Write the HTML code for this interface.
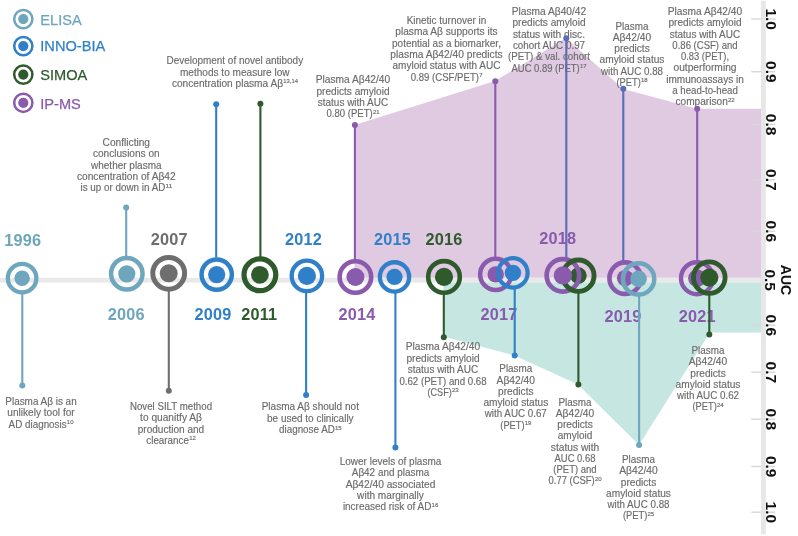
<!DOCTYPE html>
<html lang="en"><head><meta charset="utf-8"><title>Plasma amyloid-beta timeline</title>
<style>
html,body{margin:0;padding:0;background:#fff;}
body{width:798px;height:536px;overflow:hidden;}
svg{display:block;font-family:"Liberation Sans",sans-serif;}
.t{font-size:10.1px;stroke:#6b6b6b;stroke-width:0.15px;fill:#6b6b6b;text-anchor:start;}
.s{font-size:6px;}
.y{font-size:16.3px;letter-spacing:0.2px;font-weight:bold;text-anchor:middle;}
.lg{font-size:14.6px;stroke-width:0.25px;}
.ax{font-size:15.5px;font-weight:bold;fill:#111;text-anchor:middle;}
</style></head><body>
<svg width="798" height="536" viewBox="0 0 798 536">
<rect x="0" y="277.8" width="761" height="4.8" fill="#e9e9e9"/>
<polygon points="354.5,125 495,81 566,38 623.3,89 697,108.8 761.5,108.8 761.5,277.8 354.5,277.8" fill="#dfcae1"/>
<polygon points="443.3,282.6 761.5,282.6 761.5,332.5 710,332.5 639,445 578,384.5 514.5,355.5 443.3,336.5" fill="#c6e6e2"/>
<rect x="751.3" y="18.3" width="24" height="1.4" fill="#d8d8dc"/>
<rect x="751.3" y="71.0" width="24" height="1.4" fill="#d8d8dc"/>
<rect x="751.3" y="123.7" width="24" height="1.4" fill="#d8d8dc"/>
<rect x="751.3" y="179.0" width="24" height="1.4" fill="#d8d8dc"/>
<rect x="751.3" y="230.5" width="24" height="1.4" fill="#d8d8dc"/>
<rect x="751.3" y="324.5" width="24" height="1.4" fill="#d8d8dc"/>
<rect x="751.3" y="371.5" width="24" height="1.4" fill="#d8d8dc"/>
<rect x="751.3" y="418.5" width="24" height="1.4" fill="#d8d8dc"/>
<rect x="751.3" y="465.8" width="24" height="1.4" fill="#d8d8dc"/>
<rect x="751.3" y="511.5" width="24" height="1.4" fill="#d8d8dc"/>
<rect x="761" y="0.8" width="4.8" height="533.5" fill="#e7e7e7"/>
<text class="ax" transform="translate(765.8,19.2) rotate(90)">1.0</text>
<text class="ax" transform="translate(765.8,71.9) rotate(90)">0.9</text>
<text class="ax" transform="translate(765.8,124.6) rotate(90)">0.8</text>
<text class="ax" transform="translate(765.8,179.9) rotate(90)">0.7</text>
<text class="ax" transform="translate(765.8,231.4) rotate(90)">0.6</text>
<text class="ax" transform="translate(765.8,325.4) rotate(90)">0.6</text>
<text class="ax" transform="translate(765.8,372.4) rotate(90)">0.7</text>
<text class="ax" transform="translate(765.8,419.4) rotate(90)">0.8</text>
<text class="ax" transform="translate(765.8,466.7) rotate(90)">0.9</text>
<text class="ax" transform="translate(765.8,512.4) rotate(90)">1.0</text>
<text class="ax" transform="translate(765.3,280.2) rotate(90)">0.5</text>
<text class="ax" textLength="30.5" lengthAdjust="spacingAndGlyphs" transform="translate(780.6,280) rotate(90)">AUC</text>
<text class="y" x="22.7" y="245.6" fill="#6ea6bd">1996</text>
<text class="y" x="126.2" y="320.2" fill="#6ea6bd">2006</text>
<text class="y" x="169.2" y="244.6" fill="#6e6e6e">2007</text>
<text class="y" x="213.0" y="320.2" fill="#2f80c8">2009</text>
<text class="y" x="259.2" y="320.2" fill="#2e5a2c">2011</text>
<text class="y" x="303.5" y="244.6" fill="#2f80c8">2012</text>
<text class="y" x="357.1" y="320.2" fill="#8a5aad">2014</text>
<text class="y" x="392.5" y="244.6" fill="#2f80c8">2015</text>
<text class="y" x="444.0" y="244.6" fill="#2e5a2c">2016</text>
<text class="y" x="498.9" y="320.3" fill="#8a5aad">2017</text>
<text class="y" x="557.7" y="243.5" fill="#8a5aad">2018</text>
<text class="y" x="623.0" y="322.1" fill="#8a5aad">2019</text>
<text class="y" x="697.2" y="322.2" fill="#8a5aad">2021</text>
<text class="t" x="102.54" y="145.70" textLength="47.51" lengthAdjust="spacingAndGlyphs">Conflicting</text>
<text class="t" x="92.96" y="157.10" textLength="66.69" lengthAdjust="spacingAndGlyphs">conclusions on</text>
<text class="t" x="91.06" y="168.50" textLength="70.48" lengthAdjust="spacingAndGlyphs">whether plasma</text>
<text class="t" x="76.94" y="179.90" textLength="98.72" lengthAdjust="spacingAndGlyphs">concentration of Aβ42</text>
<text class="t" x="80.45" y="191.30" textLength="84.97" lengthAdjust="spacingAndGlyphs">is up or down in AD</text>
<text class="t s" x="165.61" y="187.70" textLength="6.74" lengthAdjust="spacingAndGlyphs">11</text>
<text class="t" x="166.45" y="64.30" textLength="136.71" lengthAdjust="spacingAndGlyphs">Development of novel antibody</text>
<text class="t" x="179.99" y="75.50" textLength="109.62" lengthAdjust="spacingAndGlyphs">methods to measure low</text>
<text class="t" x="171.90" y="86.70" textLength="111.15" lengthAdjust="spacingAndGlyphs">concentration plasma Aβ</text>
<text class="t s" x="283.25" y="83.10" textLength="14.65" lengthAdjust="spacingAndGlyphs">13,14</text>
<text class="t" x="315.78" y="83.20" textLength="74.44" lengthAdjust="spacingAndGlyphs">Plasma Aβ42/40</text>
<text class="t" x="316.49" y="94.55" textLength="73.02" lengthAdjust="spacingAndGlyphs">predicts amyloid</text>
<text class="t" x="317.81" y="105.90" textLength="70.38" lengthAdjust="spacingAndGlyphs">status with AUC</text>
<text class="t" x="326.53" y="117.25" textLength="46.21" lengthAdjust="spacingAndGlyphs">0.80 (PET)</text>
<text class="t s" x="372.93" y="113.65" textLength="6.74" lengthAdjust="spacingAndGlyphs">21</text>
<text class="t" x="406.68" y="23.70" textLength="79.64" lengthAdjust="spacingAndGlyphs">Kinetic turnover in</text>
<text class="t" x="395.32" y="35.10" textLength="102.36" lengthAdjust="spacingAndGlyphs">plasma Aβ supports its</text>
<text class="t" x="392.07" y="46.50" textLength="108.86" lengthAdjust="spacingAndGlyphs">potential as a biomarker,</text>
<text class="t" x="390.38" y="57.90" textLength="112.24" lengthAdjust="spacingAndGlyphs">plasma Aβ42/40 predicts</text>
<text class="t" x="392.51" y="69.30" textLength="107.98" lengthAdjust="spacingAndGlyphs">amyloid status with AUC</text>
<text class="t" x="410.67" y="80.70" textLength="68.30" lengthAdjust="spacingAndGlyphs">0.89 (CSF/PET)</text>
<text class="t s" x="479.16" y="77.10" textLength="3.37" lengthAdjust="spacingAndGlyphs">7</text>
<text class="t" x="511.78" y="15.00" textLength="74.44" lengthAdjust="spacingAndGlyphs">Plasma Aβ40/42</text>
<text class="t" x="512.49" y="26.30" textLength="73.02" lengthAdjust="spacingAndGlyphs">predicts amyloid</text>
<text class="t" x="513.03" y="37.60" textLength="71.95" lengthAdjust="spacingAndGlyphs">status with disc.</text>
<text class="t" x="512.93" y="48.90" textLength="72.14" lengthAdjust="spacingAndGlyphs">cohort AUC 0.97</text>
<text class="t" x="507.98" y="60.20" textLength="82.04" lengthAdjust="spacingAndGlyphs">(PET) &amp; val. cohort</text>
<text class="t" x="511.53" y="71.50" textLength="68.20" lengthAdjust="spacingAndGlyphs">AUC 0.89 (PET)</text>
<text class="t s" x="579.93" y="67.90" textLength="6.74" lengthAdjust="spacingAndGlyphs">17</text>
<text class="t" x="615.53" y="29.50" textLength="32.94" lengthAdjust="spacingAndGlyphs">Plasma</text>
<text class="t" x="612.78" y="40.75" textLength="38.43" lengthAdjust="spacingAndGlyphs">Aβ42/40</text>
<text class="t" x="614.29" y="52.00" textLength="35.42" lengthAdjust="spacingAndGlyphs">predicts</text>
<text class="t" x="599.60" y="63.25" textLength="64.81" lengthAdjust="spacingAndGlyphs">amyloid status</text>
<text class="t" x="600.97" y="74.50" textLength="62.06" lengthAdjust="spacingAndGlyphs">with AUC 0.88</text>
<text class="t" x="616.50" y="85.75" textLength="24.25" lengthAdjust="spacingAndGlyphs">(PET)</text>
<text class="t s" x="640.96" y="82.15" textLength="6.74" lengthAdjust="spacingAndGlyphs">18</text>
<text class="t" x="667.78" y="15.00" textLength="74.44" lengthAdjust="spacingAndGlyphs">Plasma Aβ42/40</text>
<text class="t" x="668.49" y="26.28" textLength="73.02" lengthAdjust="spacingAndGlyphs">predicts amyloid</text>
<text class="t" x="669.81" y="37.56" textLength="70.38" lengthAdjust="spacingAndGlyphs">status with AUC</text>
<text class="t" x="672.36" y="48.84" textLength="65.29" lengthAdjust="spacingAndGlyphs">0.86 (CSF) and</text>
<text class="t" x="680.92" y="60.12" textLength="48.17" lengthAdjust="spacingAndGlyphs">0.83 (PET),</text>
<text class="t" x="673.47" y="71.40" textLength="63.05" lengthAdjust="spacingAndGlyphs">outperforming</text>
<text class="t" x="666.21" y="82.68" textLength="77.59" lengthAdjust="spacingAndGlyphs">immunoassays in</text>
<text class="t" x="672.21" y="93.96" textLength="65.57" lengthAdjust="spacingAndGlyphs">a head-to-head</text>
<text class="t" x="675.46" y="105.24" textLength="52.34" lengthAdjust="spacingAndGlyphs">comparison</text>
<text class="t s" x="728.00" y="101.64" textLength="6.74" lengthAdjust="spacingAndGlyphs">22</text>
<text class="t" x="5.32" y="405.20" textLength="71.35" lengthAdjust="spacingAndGlyphs">Plasma Aβ is an</text>
<text class="t" x="7.29" y="416.45" textLength="67.42" lengthAdjust="spacingAndGlyphs">unlikely tool for</text>
<text class="t" x="8.61" y="427.70" textLength="58.03" lengthAdjust="spacingAndGlyphs">AD diagnosis</text>
<text class="t s" x="66.85" y="424.10" textLength="6.74" lengthAdjust="spacingAndGlyphs">10</text>
<text class="t" x="129.93" y="410.20" textLength="82.13" lengthAdjust="spacingAndGlyphs">Novel SILT method</text>
<text class="t" x="140.09" y="421.40" textLength="61.82" lengthAdjust="spacingAndGlyphs">to quanitfy Aβ</text>
<text class="t" x="137.76" y="432.60" textLength="66.47" lengthAdjust="spacingAndGlyphs">production and</text>
<text class="t" x="146.30" y="443.80" textLength="42.67" lengthAdjust="spacingAndGlyphs">clearance</text>
<text class="t s" x="189.17" y="440.20" textLength="6.74" lengthAdjust="spacingAndGlyphs">12</text>
<text class="t" x="261.68" y="410.20" textLength="97.25" lengthAdjust="spacingAndGlyphs">Plasma Aβ should not</text>
<text class="t" x="267.00" y="421.70" textLength="86.60" lengthAdjust="spacingAndGlyphs">be used to clinically</text>
<text class="t" x="279.06" y="433.20" textLength="55.75" lengthAdjust="spacingAndGlyphs">diagnose AD</text>
<text class="t s" x="335.00" y="429.60" textLength="6.74" lengthAdjust="spacingAndGlyphs">15</text>
<text class="t" x="339.72" y="465.20" textLength="101.56" lengthAdjust="spacingAndGlyphs">Lower levels of plasma</text>
<text class="t" x="351.77" y="476.45" textLength="77.47" lengthAdjust="spacingAndGlyphs">Aβ42 and plasma</text>
<text class="t" x="345.67" y="487.70" textLength="89.67" lengthAdjust="spacingAndGlyphs">Aβ42/40 associated</text>
<text class="t" x="357.12" y="498.95" textLength="66.75" lengthAdjust="spacingAndGlyphs">with marginally</text>
<text class="t" x="342.88" y="510.20" textLength="88.51" lengthAdjust="spacingAndGlyphs">increased risk of AD</text>
<text class="t s" x="431.59" y="506.60" textLength="6.74" lengthAdjust="spacingAndGlyphs">16</text>
<text class="t" x="405.78" y="350.30" textLength="74.44" lengthAdjust="spacingAndGlyphs">Plasma Aβ42/40</text>
<text class="t" x="406.49" y="361.70" textLength="73.02" lengthAdjust="spacingAndGlyphs">predicts amyloid</text>
<text class="t" x="407.81" y="373.10" textLength="70.38" lengthAdjust="spacingAndGlyphs">status with AUC</text>
<text class="t" x="399.38" y="384.50" textLength="87.23" lengthAdjust="spacingAndGlyphs">0.62 (PET) and 0.68</text>
<text class="t" x="427.50" y="395.90" textLength="24.26" lengthAdjust="spacingAndGlyphs">(CSF)</text>
<text class="t s" x="451.96" y="392.30" textLength="6.74" lengthAdjust="spacingAndGlyphs">23</text>
<text class="t" x="499.33" y="372.20" textLength="32.94" lengthAdjust="spacingAndGlyphs">Plasma</text>
<text class="t" x="496.58" y="383.50" textLength="38.43" lengthAdjust="spacingAndGlyphs">Aβ42/40</text>
<text class="t" x="498.09" y="394.80" textLength="35.42" lengthAdjust="spacingAndGlyphs">predicts</text>
<text class="t" x="483.40" y="406.10" textLength="64.81" lengthAdjust="spacingAndGlyphs">amyloid status</text>
<text class="t" x="484.77" y="417.40" textLength="62.06" lengthAdjust="spacingAndGlyphs">with AUC 0.67</text>
<text class="t" x="500.30" y="428.70" textLength="24.25" lengthAdjust="spacingAndGlyphs">(PET)</text>
<text class="t s" x="524.76" y="425.10" textLength="6.74" lengthAdjust="spacingAndGlyphs">19</text>
<text class="t" x="558.53" y="405.70" textLength="32.94" lengthAdjust="spacingAndGlyphs">Plasma</text>
<text class="t" x="555.78" y="416.95" textLength="38.43" lengthAdjust="spacingAndGlyphs">Aβ42/40</text>
<text class="t" x="557.29" y="428.20" textLength="35.42" lengthAdjust="spacingAndGlyphs">predicts</text>
<text class="t" x="557.73" y="439.45" textLength="34.53" lengthAdjust="spacingAndGlyphs">amyloid</text>
<text class="t" x="550.81" y="450.70" textLength="48.38" lengthAdjust="spacingAndGlyphs">status with</text>
<text class="t" x="554.57" y="461.95" textLength="40.87" lengthAdjust="spacingAndGlyphs">AUC 0.68</text>
<text class="t" x="553.34" y="473.20" textLength="43.33" lengthAdjust="spacingAndGlyphs">(PET) and</text>
<text class="t" x="548.52" y="484.45" textLength="46.22" lengthAdjust="spacingAndGlyphs">0.77 (CSF)</text>
<text class="t s" x="594.94" y="480.85" textLength="6.74" lengthAdjust="spacingAndGlyphs">20</text>
<text class="t" x="622.03" y="463.20" textLength="32.94" lengthAdjust="spacingAndGlyphs">Plasma</text>
<text class="t" x="619.28" y="474.40" textLength="38.43" lengthAdjust="spacingAndGlyphs">Aβ42/40</text>
<text class="t" x="620.79" y="485.60" textLength="35.42" lengthAdjust="spacingAndGlyphs">predicts</text>
<text class="t" x="606.10" y="496.80" textLength="64.81" lengthAdjust="spacingAndGlyphs">amyloid status</text>
<text class="t" x="607.47" y="508.00" textLength="62.06" lengthAdjust="spacingAndGlyphs">with AUC 0.88</text>
<text class="t" x="623.00" y="519.20" textLength="24.25" lengthAdjust="spacingAndGlyphs">(PET)</text>
<text class="t s" x="647.46" y="515.60" textLength="6.74" lengthAdjust="spacingAndGlyphs">25</text>
<text class="t" x="691.53" y="354.00" textLength="32.94" lengthAdjust="spacingAndGlyphs">Plasma</text>
<text class="t" x="688.78" y="365.25" textLength="38.43" lengthAdjust="spacingAndGlyphs">Aβ42/40</text>
<text class="t" x="690.29" y="376.50" textLength="35.42" lengthAdjust="spacingAndGlyphs">predicts</text>
<text class="t" x="675.60" y="387.75" textLength="64.81" lengthAdjust="spacingAndGlyphs">amyloid status</text>
<text class="t" x="676.97" y="399.00" textLength="62.06" lengthAdjust="spacingAndGlyphs">with AUC 0.62</text>
<text class="t" x="692.50" y="410.25" textLength="24.25" lengthAdjust="spacingAndGlyphs">(PET)</text>
<text class="t s" x="716.96" y="406.65" textLength="6.74" lengthAdjust="spacingAndGlyphs">24</text>
<line x1="22.3" y1="293.7" x2="22.3" y2="385.5" stroke="#6ea6bd" stroke-width="2.1"/>
<circle cx="22.3" cy="385.5" r="3.0" fill="#6ea6bd"/>
<line x1="126.2" y1="256.8" x2="126.2" y2="207.5" stroke="#6ea6bd" stroke-width="2.1"/>
<circle cx="126.2" cy="207.5" r="3.0" fill="#6ea6bd"/>
<line x1="168.8" y1="290.3" x2="168.8" y2="390.8" stroke="#6e6e6e" stroke-width="2.1"/>
<circle cx="168.8" cy="390.8" r="3.0" fill="#6e6e6e"/>
<line x1="216.2" y1="257.6" x2="216.2" y2="104.2" stroke="#2f80c8" stroke-width="2.1"/>
<circle cx="216.2" cy="104.2" r="3.0" fill="#2f80c8"/>
<line x1="260.4" y1="257.8" x2="260.4" y2="103.8" stroke="#2e5a2c" stroke-width="2.1"/>
<circle cx="260.4" cy="103.8" r="3.0" fill="#2e5a2c"/>
<line x1="306.1" y1="292.9" x2="306.1" y2="395.0" stroke="#2f80c8" stroke-width="2.1"/>
<circle cx="306.1" cy="395.0" r="3.0" fill="#2f80c8"/>
<line x1="354.9" y1="260.0" x2="354.9" y2="125.0" stroke="#8a5aad" stroke-width="2.1"/>
<circle cx="354.9" cy="125.0" r="3.0" fill="#8a5aad"/>
<line x1="395.4" y1="292.9" x2="395.4" y2="447.5" stroke="#2f80c8" stroke-width="2.1"/>
<circle cx="395.4" cy="447.5" r="3.0" fill="#2f80c8"/>
<line x1="443.8" y1="294.0" x2="443.8" y2="337.2" stroke="#2e5a2c" stroke-width="2.1"/>
<circle cx="443.8" cy="337.2" r="3.0" fill="#2e5a2c"/>
<line x1="495.3" y1="257.5" x2="495.3" y2="81.2" stroke="#8a5aad" stroke-width="2.1"/>
<circle cx="495.3" cy="81.2" r="3.0" fill="#8a5aad"/>
<line x1="514.7" y1="289.0" x2="514.7" y2="355.5" stroke="#2f80c8" stroke-width="2.1"/>
<circle cx="514.7" cy="355.5" r="3.0" fill="#2f80c8"/>
<line x1="566.3" y1="258.0" x2="566.3" y2="38.3" stroke="#5a6cb6" stroke-width="2.1"/>
<circle cx="566.3" cy="38.3" r="3.0" fill="#5a6cb6"/>
<line x1="578.4" y1="292.0" x2="578.4" y2="384.5" stroke="#2e5a2c" stroke-width="2.1"/>
<circle cx="578.4" cy="384.5" r="3.0" fill="#2e5a2c"/>
<line x1="623.3" y1="261.0" x2="623.3" y2="88.8" stroke="#5a6cb6" stroke-width="2.1"/>
<circle cx="623.3" cy="88.8" r="3.0" fill="#5a6cb6"/>
<line x1="639.1" y1="295.5" x2="639.1" y2="445.0" stroke="#6ea6bd" stroke-width="2.1"/>
<circle cx="639.1" cy="445.0" r="3.0" fill="#6ea6bd"/>
<line x1="697.2" y1="261.0" x2="697.2" y2="108.8" stroke="#8a5aad" stroke-width="2.1"/>
<circle cx="697.2" cy="108.8" r="3.0" fill="#8a5aad"/>
<line x1="709.3" y1="294.5" x2="709.3" y2="334.5" stroke="#2e5a2c" stroke-width="2.1"/>
<circle cx="709.3" cy="334.5" r="3.0" fill="#2e5a2c"/>
<circle cx="22.1" cy="278.2" r="14.25" fill="none" stroke="#6ea6bd" stroke-width="4.3"/>
<circle cx="22.1" cy="278.2" r="7.7" fill="#6ea6bd"/>
<circle cx="126.8" cy="273.8" r="15.75" fill="none" stroke="#6ea6bd" stroke-width="4.5"/>
<circle cx="126.8" cy="273.8" r="8.6" fill="#6ea6bd"/>
<circle cx="168.7" cy="273.3" r="15.90" fill="none" stroke="#6e6e6e" stroke-width="5.0"/>
<circle cx="168.7" cy="273.3" r="9.0" fill="#6e6e6e"/>
<circle cx="216.7" cy="274.6" r="15.15" fill="none" stroke="#2f80c8" stroke-width="4.5"/>
<circle cx="216.7" cy="274.6" r="8.6" fill="#2f80c8"/>
<circle cx="259.9" cy="274.8" r="15.90" fill="none" stroke="#2e5a2c" stroke-width="5.2"/>
<circle cx="259.9" cy="274.8" r="8.9" fill="#2e5a2c"/>
<circle cx="306.9" cy="275.9" r="15.25" fill="none" stroke="#2f80c8" stroke-width="4.3"/>
<circle cx="306.9" cy="275.9" r="9.1" fill="#2f80c8"/>
<circle cx="355.4" cy="277.0" r="15.80" fill="none" stroke="#8a5aad" stroke-width="4.6"/>
<circle cx="355.4" cy="277.0" r="9.0" fill="#8a5aad"/>
<circle cx="394.5" cy="276.9" r="14.65" fill="none" stroke="#2f80c8" stroke-width="4.3"/>
<circle cx="394.5" cy="276.9" r="8.1" fill="#2f80c8"/>
<circle cx="444.0" cy="276.9" r="15.80" fill="none" stroke="#2e5a2c" stroke-width="4.6"/>
<circle cx="444.0" cy="276.9" r="9.1" fill="#2e5a2c"/>
<circle cx="495.7" cy="274.4" r="15.55" fill="none" stroke="#8a5aad" stroke-width="4.5"/>
<circle cx="495.7" cy="274.4" r="8.2" fill="#8a5aad"/>
<circle cx="512.9" cy="272.9" r="14.70" fill="none" stroke="#2f80c8" stroke-width="4.2"/>
<circle cx="512.9" cy="272.9" r="8.2" fill="#2f80c8"/>
<circle cx="578.4" cy="275.6" r="8.3" fill="#2e5a2c"/>
<circle cx="562.9" cy="275.4" r="16.25" fill="none" stroke="#8a5aad" stroke-width="4.7"/>
<circle cx="578.4" cy="275.7" r="15.65" fill="none" stroke="#2e5a2c" stroke-width="4.9"/>
<circle cx="562.9" cy="275.4" r="9.2" fill="#8a5aad"/>
<circle cx="625.2" cy="278.2" r="15.75" fill="none" stroke="#8a5aad" stroke-width="4.7"/>
<circle cx="625.2" cy="278.2" r="8.3" fill="#8a5aad"/>
<circle cx="638.6" cy="278.9" r="15.65" fill="none" stroke="#6ea6bd" stroke-width="4.5"/>
<circle cx="638.6" cy="278.9" r="8.3" fill="#6ea6bd"/>
<circle cx="697.0" cy="278.2" r="16.00" fill="none" stroke="#8a5aad" stroke-width="4.4"/>
<circle cx="697.0" cy="278.2" r="8.9" fill="#8a5aad"/>
<circle cx="709.3" cy="277.6" r="15.80" fill="none" stroke="#2e5a2c" stroke-width="4.8"/>
<circle cx="709.3" cy="277.6" r="9.1" fill="#2e5a2c"/>
<circle cx="23.3" cy="19.1" r="9.1" fill="none" stroke="#6ea6bd" stroke-width="2.5"/>
<circle cx="23.3" cy="19.1" r="5.1" fill="#6ea6bd"/>
<text class="lg" x="40.3" y="25.4" fill="#6ea6bd" stroke="#6ea6bd">ELISA</text>
<circle cx="23.3" cy="46.1" r="9.1" fill="none" stroke="#2f80c8" stroke-width="2.5"/>
<circle cx="23.3" cy="46.1" r="5.1" fill="#2f80c8"/>
<text class="lg" x="40.3" y="50.8" fill="#2f80c8" stroke="#2f80c8">INNO-BIA</text>
<circle cx="23.3" cy="74.6" r="9.1" fill="none" stroke="#2e5a2c" stroke-width="2.5"/>
<circle cx="23.3" cy="74.6" r="5.1" fill="#2e5a2c"/>
<text class="lg" x="40.3" y="79.6" fill="#2e5a2c" stroke="#2e5a2c">SIMOA</text>
<circle cx="23.3" cy="102.8" r="9.1" fill="none" stroke="#8a5aad" stroke-width="2.5"/>
<circle cx="23.3" cy="102.8" r="5.1" fill="#8a5aad"/>
<text class="lg" x="40.3" y="108.8" fill="#8a5aad" stroke="#8a5aad">IP-MS</text>
</svg></body></html>
